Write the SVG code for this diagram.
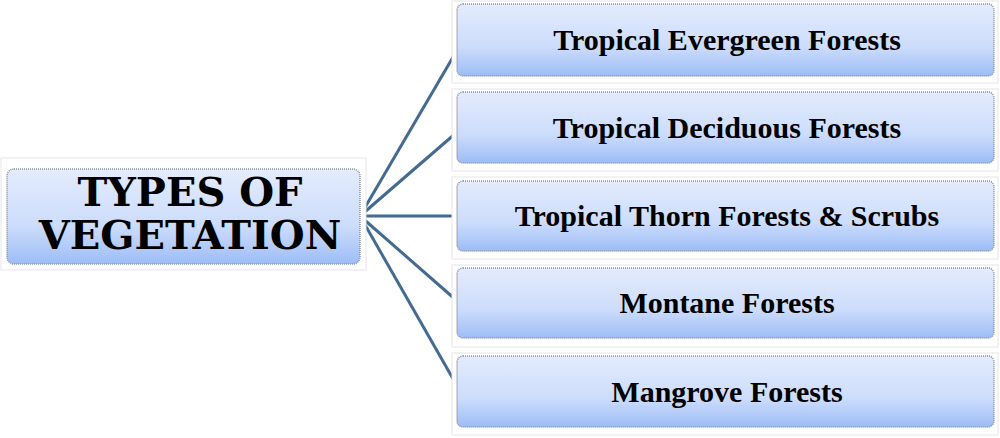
<svg xmlns="http://www.w3.org/2000/svg" width="1000" height="438" viewBox="0 0 1000 438">
<defs>
<linearGradient id="g" x1="0" y1="0" x2="0" y2="1">
<stop offset="0" stop-color="#e4ecfd"/><stop offset="0.6" stop-color="#ccdcfb"/><stop offset="1" stop-color="#9dbdf7"/>
</linearGradient>
</defs>
<style>
.frame{fill:#fff;stroke:#e6e6e6;stroke-width:1}
.box{fill:url(#g);stroke:#8a9099;stroke-width:1.5;stroke-dasharray:1 1}
.t{font-family:"Liberation Serif",serif;font-weight:bold;font-size:30px;fill:#000;text-anchor:middle}
.h{font-family:"DejaVu Serif",serif;font-weight:bold;font-size:40px;fill:#000;text-anchor:middle}
.c{stroke:#436a90;stroke-width:3;fill:none}
</style>
<rect width="1000" height="438" fill="#fff"/>
<g id="connectors">
<line class="c" x1="360" y1="216" x2="456" y2="52"/>
<line class="c" x1="360" y1="216" x2="456" y2="133"/>
<line class="c" x1="360" y1="216" x2="456" y2="216"/>
<line class="c" x1="360" y1="216" x2="456" y2="300"/>
<line class="c" x1="360" y1="216" x2="456" y2="384"/>
</g>
<g id="root">
<rect class="frame" x="1" y="158" width="365" height="112"/>
<rect class="box" x="7" y="169" width="353" height="95" rx="7"/>
<text class="h" x="190" y="206">TYPES OF</text>
<text class="h" x="190" y="249">VEGETATION</text>
</g>
<g id="n1"><rect class="frame" x="452" y="1" width="546" height="82"/><rect class="box" x="457" y="4" width="537" height="72" rx="6"/><text class="t" x="727" y="50">Tropical Evergreen Forests</text></g>
<g id="n2"><rect class="frame" x="452" y="89" width="546" height="82"/><rect class="box" x="457" y="92" width="537" height="71" rx="6"/><text class="t" x="727" y="138">Tropical Deciduous Forests</text></g>
<g id="n3"><rect class="frame" x="452" y="177" width="546" height="82"/><rect class="box" x="457" y="181" width="537" height="70" rx="6"/><text class="t" x="727" y="226">Tropical Thorn Forests &amp; Scrubs</text></g>
<g id="n4"><rect class="frame" x="452" y="265" width="546" height="82"/><rect class="box" x="457" y="268" width="537" height="70" rx="6"/><text class="t" x="727" y="313">Montane Forests</text></g>
<g id="n5"><rect class="frame" x="452" y="353" width="546" height="82"/><rect class="box" x="457" y="356" width="537" height="71" rx="6"/><text class="t" x="727" y="402">Mangrove Forests</text></g>
</svg>
